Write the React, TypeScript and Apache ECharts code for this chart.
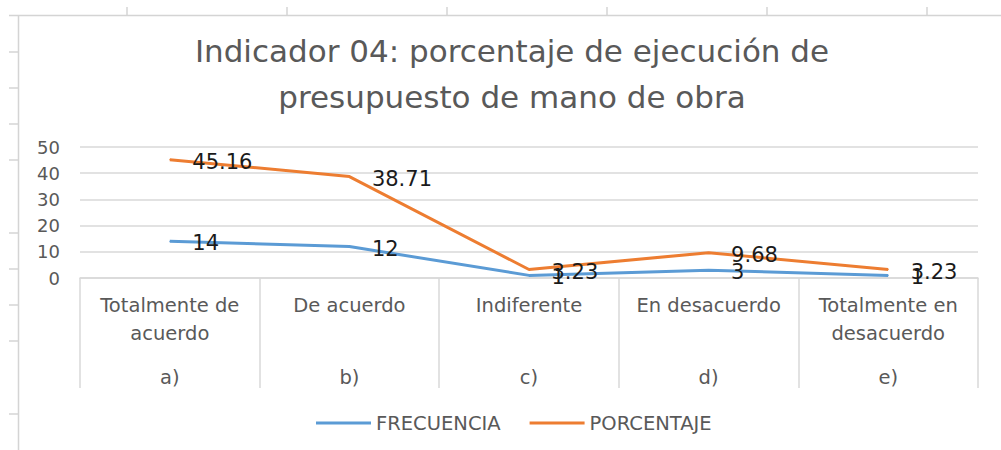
import React, { useEffect, useRef } from "react";
import * as echarts from "echarts";

const categories = ["Totalmente de\nacuerdo", "De acuerdo", "Indiferente", "En desacuerdo", "Totalmente en\ndesacuerdo"];
const letters = ["a)", "b)", "c)", "d)", "e)"];
const frecuencia = [14, 12, 1, 3, 1];
const porcentaje = [45.16, 38.71, 3.23, 9.68, 3.23];
const titleText = "Indicador 04: porcentaje de ejecución de\npresupuesto de mano de obra";
const FONT = "'DejaVu Sans', sans-serif";
const GRAY = "#595959";
const FRAME = "#d4d4d4";

export default function App() {
  const ref = useRef<HTMLDivElement>(null);
  useEffect(() => {
    if (!ref.current) return;
    const chart = echarts.init(ref.current, undefined, { renderer: "svg" });
    const topTicks = [127, 287, 447, 607, 767, 927];
    const leftTicks = [52, 88, 124, 160, 233, 269, 305, 341, 414];
    const graphic: any[] = [
      { type: "line", shape: { x1: 9, y1: 15.5, x2: 1001, y2: 15.5 }, style: { stroke: FRAME, lineWidth: 1.5 }, silent: true },
      { type: "line", shape: { x1: 18.5, y1: 15, x2: 18.5, y2: 450 }, style: { stroke: FRAME, lineWidth: 1.5 }, silent: true },
      ...topTicks.map((x) => ({ type: "line", shape: { x1: x, y1: 7, x2: x, y2: 15 }, style: { stroke: FRAME, lineWidth: 1.5 }, silent: true })),
      ...leftTicks.map((y) => ({ type: "line", shape: { x1: 9, y1: y, x2: 18, y2: y }, style: { stroke: FRAME, lineWidth: 1.5 }, silent: true })),
    ];
    const labelStyle = {
      show: true,
      position: "right" as const,
      distance: 22,
      fontFamily: FONT,
      fontSize: 21,
      color: "#1a1a1a",
      offset: [0, 2],
    };
    chart.setOption({
      animation: false,
      backgroundColor: "#ffffff",
      title: {
        text: titleText,
        left: 507,
        top: 23,
        textAlign: "center",
        textStyle: { fontFamily: FONT, fontSize: 31, fontWeight: "normal", color: GRAY, lineHeight: 46 },
      },
      graphic,
      legend: {
        left: 311,
        top: 408,
        icon: "rect",
        itemWidth: 55,
        itemHeight: 3,
        itemGap: 29,
        textStyle: { fontFamily: FONT, fontSize: 19.5, color: GRAY },
        data: ["FRECUENCIA", "PORCENTAJE"],
      },
      grid: { left: 80, right: 23, top: 147, bottom: 172, containLabel: false },
      xAxis: [
        {
          type: "category",
          data: categories,
          boundaryGap: true,
          axisLine: { lineStyle: { color: "#d9d9d9", width: 1.5 } },
          axisTick: { show: true, length: 110, interval: 0, lineStyle: { color: "#d9d9d9", width: 1.5 } },
          axisLabel: { interval: 0, margin: 13, fontFamily: FONT, fontSize: 19.5, color: GRAY, lineHeight: 28 },
        },
        {
          type: "category",
          position: "bottom",
          data: letters,
          boundaryGap: true,
          axisLine: { show: false },
          axisTick: { show: false },
          axisLabel: { interval: 0, margin: 85, fontFamily: FONT, fontSize: 19.5, color: GRAY, lineHeight: 28 },
        },
      ],
      yAxis: {
        type: "value",
        min: 0,
        max: 50,
        interval: 10,
        axisLine: { show: false },
        axisTick: { show: false },
        splitLine: { lineStyle: { color: "#d9d9d9", width: 1.5 } },
        axisLabel: { margin: 20, fontFamily: FONT, fontSize: 18, color: GRAY },
      },
      series: [
        {
          name: "FRECUENCIA",
          type: "line",
          xAxisIndex: 0,
          data: frecuencia,
          symbol: "circle",
          symbolSize: 1,
          lineStyle: { color: "#5B9BD5", width: 3 },
          itemStyle: { color: "#5B9BD5" },
          label: labelStyle,
        },
        {
          name: "PORCENTAJE",
          type: "line",
          xAxisIndex: 0,
          data: porcentaje,
          symbol: "circle",
          symbolSize: 1,
          lineStyle: { color: "#ED7D31", width: 3 },
          itemStyle: { color: "#ED7D31" },
          label: labelStyle,
        },
      ],
    });
    return () => chart.dispose();
  }, []);
  return <div ref={ref} style={{ position: "absolute", left: 0, top: 0, width: 1001, height: 450 }} />;
}
